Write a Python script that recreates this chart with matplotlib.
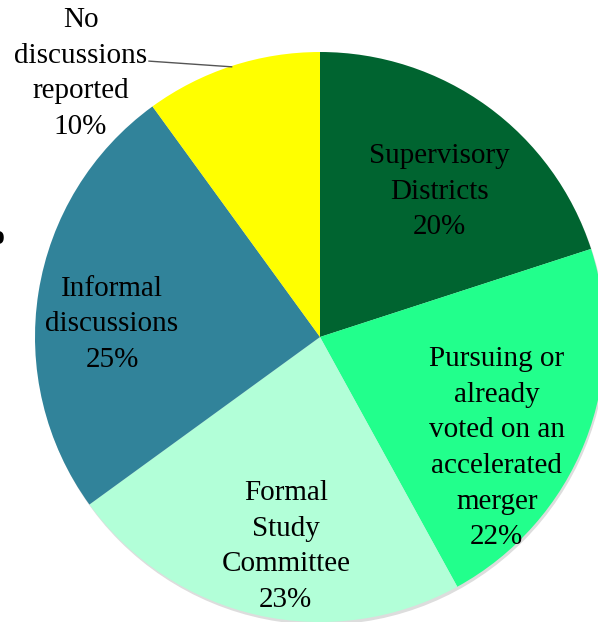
import matplotlib.pyplot as plt
from matplotlib.patches import Circle

categories = ["Supervisory\nDistricts", "Pursuing or\nalready\nvoted on an\naccelerated\nmerger",
              "Formal\nStudy\nCommittee", "Informal\ndiscussions", "No\ndiscussions\nreported"]
values = [20, 22, 23, 25, 10]
colors = ["#006430", "#22FF8C", "#B2FFD8", "#31839A", "#FFFF00"]
# label anchor points in axes data units (pie radius = 1)
label_pos = [(0.42, 0.51), (0.62, -0.39), (-0.12, -0.735), (-0.73, 0.045), (-0.84, 0.925)]

plt.rcParams['font.family'] = ['Liberation Serif', 'DejaVu Serif']

fig = plt.figure(figsize=(5.98, 6.28), dpi=100)
ax = fig.add_axes([35 / 598, 6 / 628, 570 / 598, 570 / 628])

# soft shadow
ax.add_patch(Circle((0.005, -0.01), 1.0, color='#aaaaaa', alpha=0.4, lw=0, zorder=0))

wedges, _ = ax.pie(values, colors=colors, startangle=90, counterclock=False,
                   radius=1.0, center=(0, 0), frame=True,
                   wedgeprops=dict(linewidth=0))
ax.set_xlim(-1, 1)
ax.set_ylim(-1, 1)
ax.axis('off')

for cat, v, (x, y) in zip(categories, values, label_pos):
    ax.text(x, y, f"{cat}\n{v}%", ha='center', va='center', fontsize=21,
            linespacing=1.48, color='black', zorder=5)

# leader line for the outside label
ax.plot([-0.6, -0.31], [0.968, 0.948], color='#555555', lw=1, clip_on=False)

# fragment of a cropped character at the left edge
fig.text(-2 / 598, 1 - 237 / 628, "o", fontsize=20, fontweight='bold', ha='center', va='center')

fig.savefig("out.png", dpi=100)
